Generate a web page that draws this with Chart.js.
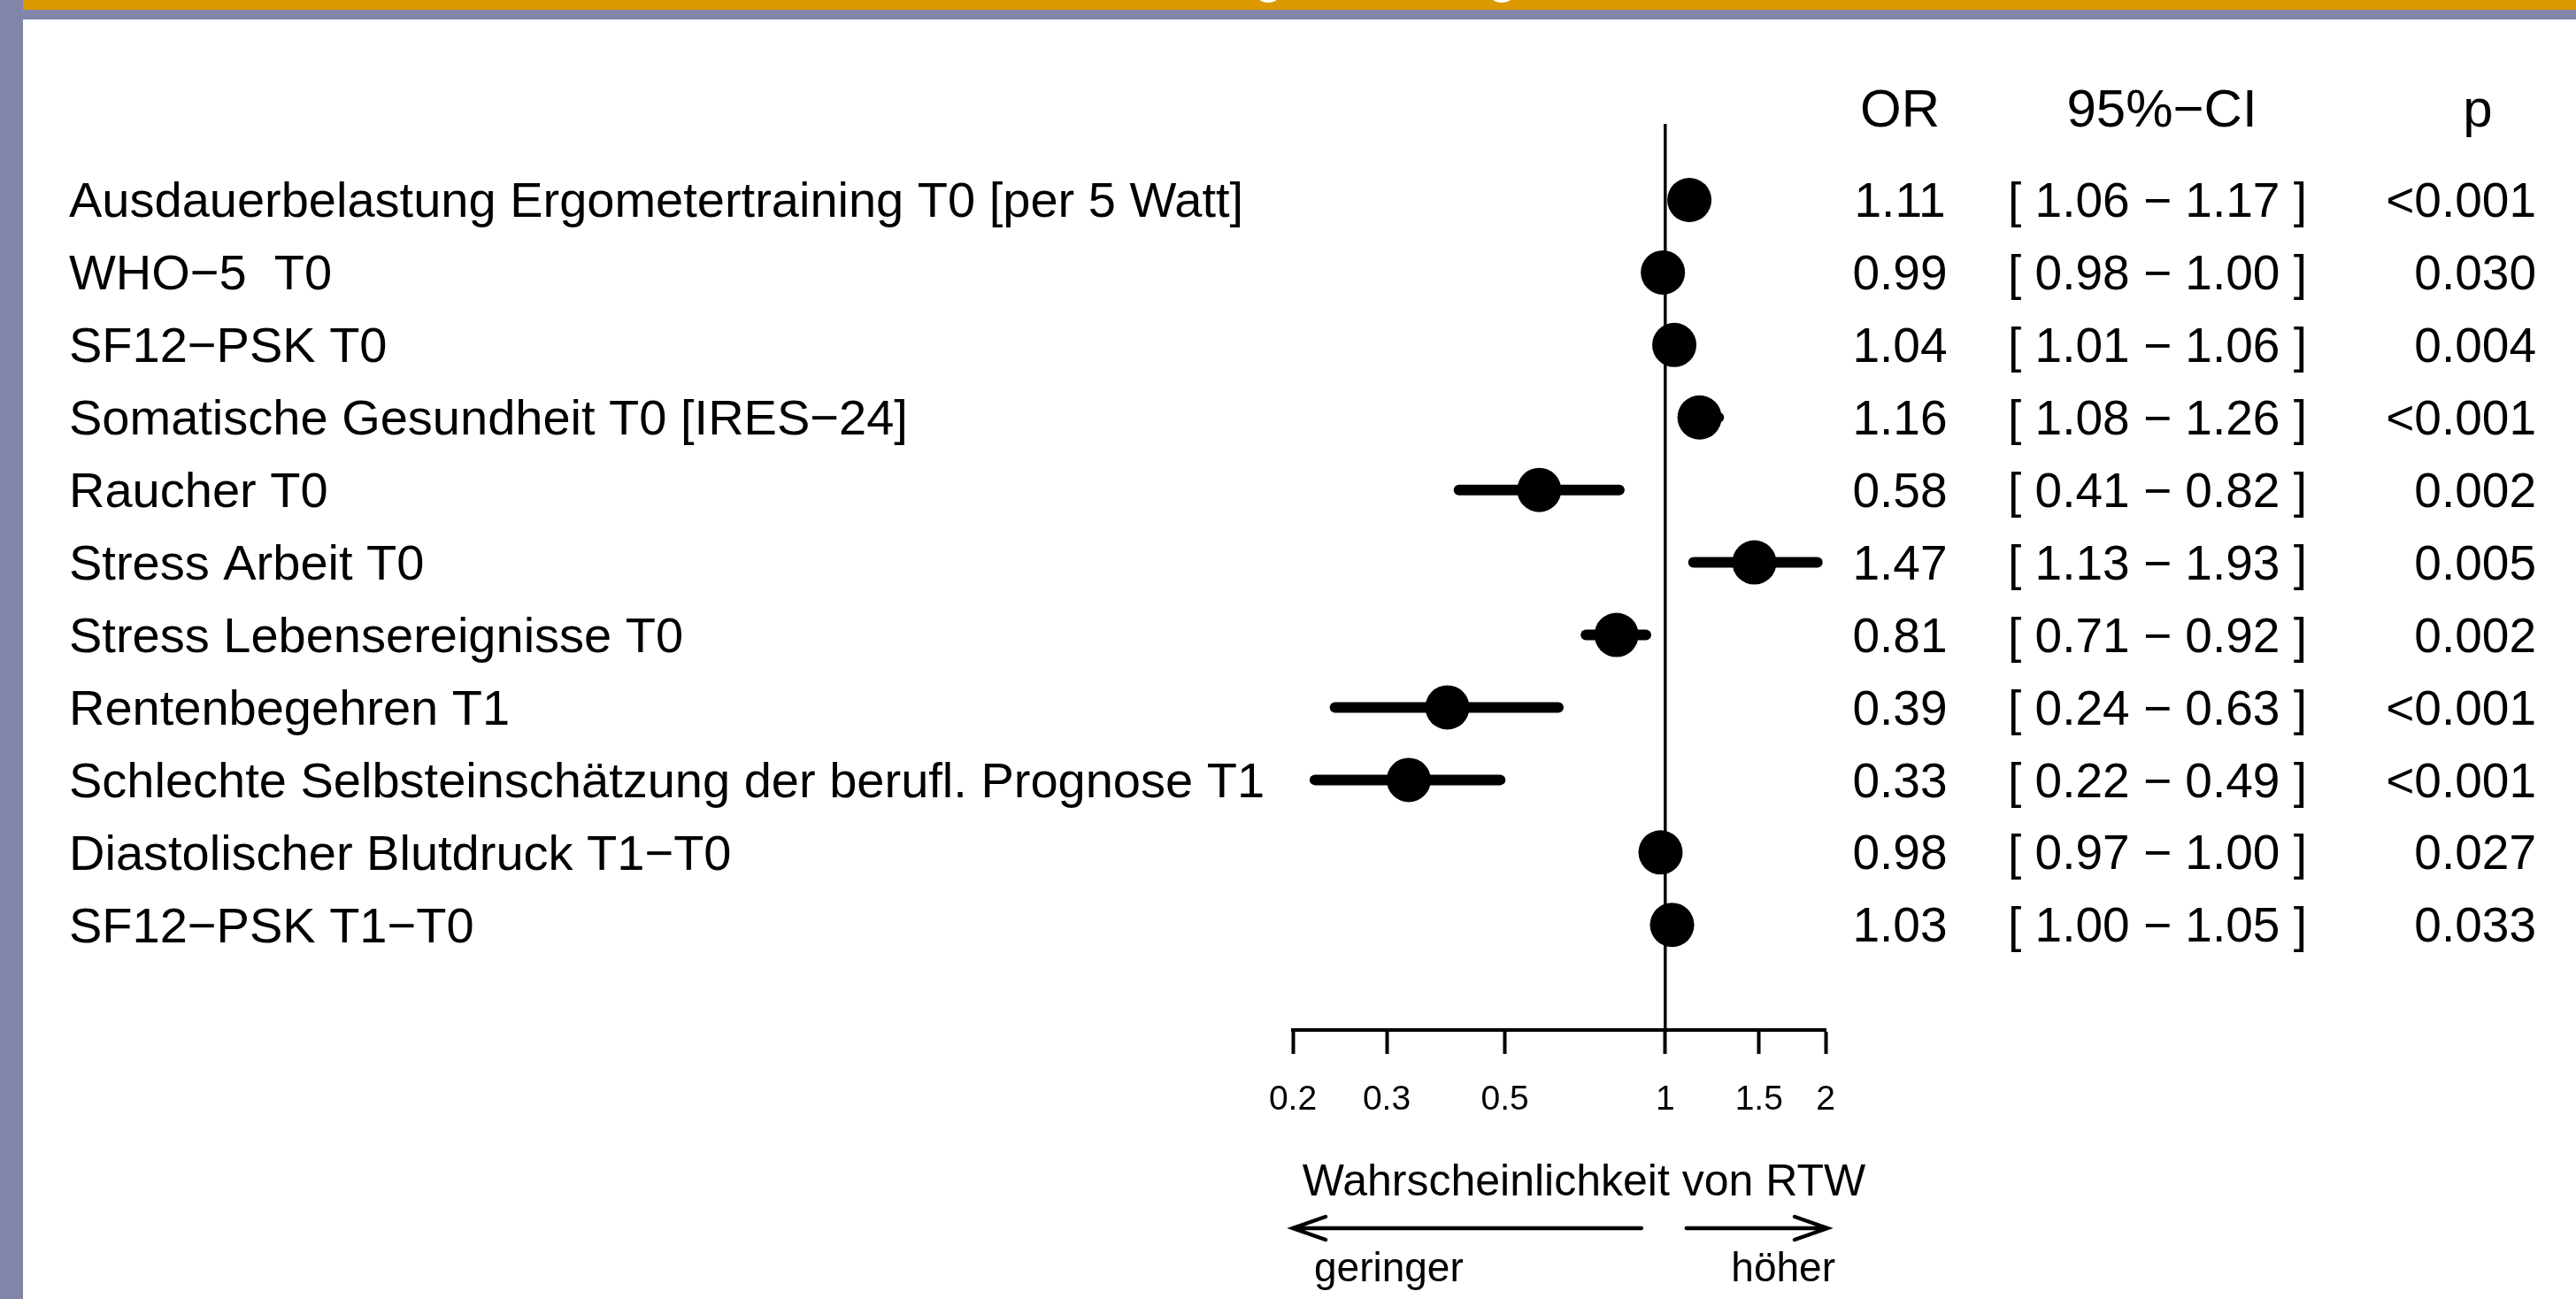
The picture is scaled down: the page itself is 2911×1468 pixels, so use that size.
<!DOCTYPE html>
<html>
<head>
<meta charset="utf-8">
<script src="https://cdn.jsdelivr.net/npm/chart.js@4.4.1/dist/chart.umd.min.js"></script>
<style>
  html, body { margin: 0; padding: 0; background: #ffffff; }
  canvas { display: block; }
</style>
</head>
<body>
<canvas id="forestChart" width="2911" height="1468"></canvas>
<script>
const predictors = [
  "Ausdauerbelastung Ergometertraining T0 [per 5 Watt]",
  "WHO\u22125  T0",
  "SF12\u2212PSK T0",
  "Somatische Gesundheit T0 [IRES\u221224]",
  "Raucher T0",
  "Stress Arbeit T0",
  "Stress Lebensereignisse T0",
  "Rentenbegehren T1",
  "Schlechte Selbsteinschätzung der berufl. Prognose T1",
  "Diastolischer Blutdruck T1\u2212T0",
  "SF12\u2212PSK T1\u2212T0"
];
const oddsRatios = [1.11, 0.99, 1.04, 1.16, 0.58, 1.47, 0.81, 0.39, 0.33, 0.98, 1.03];
const ciLower = [1.06, 0.98, 1.01, 1.08, 0.41, 1.13, 0.71, 0.24, 0.22, 0.97, 1.00];
const ciUpper = [1.17, 1.00, 1.06, 1.26, 0.82, 1.93, 0.92, 0.63, 0.49, 1.00, 1.05];
const pValues = ["<0.001", "0.030", "0.004", "<0.001", "0.002", "0.005", "0.002", "<0.001", "<0.001", "0.027", "0.033"];
const xTicks = [0.2, 0.3, 0.5, 1, 1.5, 2];
const columnHeaders = ["OR", "95%\u2212CI", "p"];

document.addEventListener("DOMContentLoaded", () => {
  const FONT = "'Liberation Sans', Arial, Helvetica, sans-serif";
  const fmt = (v) => v.toFixed(2);

  // slide frame: purple left band, orange + purple strip at the top
  const slideFrame = {
    id: "slideFrame",
    beforeDraw(chart) {
      const ctx = chart.ctx;
      ctx.save();
      ctx.fillStyle = "#ffffff";
      ctx.fillRect(0, 0, chart.width, chart.height);
      ctx.fillStyle = "#8085a9";
      ctx.fillRect(0, 0, 26, chart.height);
      ctx.fillRect(0, 11, chart.width, 11);
      ctx.fillStyle = "#dd9900";
      ctx.fillRect(26, 0, chart.width - 26, 11);
      // bits of the cut-off slide title
      ctx.fillStyle = "#ffffff";
      ctx.beginPath();
      ctx.ellipse(1433, -3, 11, 6, 0, 0, Math.PI * 2);
      ctx.ellipse(1697, -3, 11, 6, 0, 0, Math.PI * 2);
      ctx.fill();
      ctx.restore();
    },
  };

  // reference line at OR = 1 and the CI whiskers
  const whiskers = {
    id: "whiskers",
    beforeDatasetsDraw(chart) {
      const { ctx, chartArea } = chart;
      const xs = chart.scales.x;
      const ys = chart.scales.y;
      ctx.save();
      ctx.strokeStyle = "#000000";
      ctx.lineWidth = 3.5;
      const x1 = xs.getPixelForValue(1);
      ctx.beginPath();
      ctx.moveTo(x1, chartArea.top);
      ctx.lineTo(x1, chartArea.bottom);
      ctx.stroke();

      ctx.lineWidth = 12;
      ctx.lineCap = "round";
      predictors.forEach((_, i) => {
        const y = ys.getPixelForValue(i);
        ctx.beginPath();
        ctx.moveTo(xs.getPixelForValue(ciLower[i]), y);
        ctx.lineTo(xs.getPixelForValue(ciUpper[i]), y);
        ctx.stroke();
      });
      ctx.restore();
    },
  };

  // row labels, table columns, axis title and direction arrows
  const tableText = {
    id: "tableText",
    afterDraw(chart) {
      const { ctx, chartArea } = chart;
      const xs = chart.scales.x;
      const ys = chart.scales.y;
      ctx.save();
      ctx.fillStyle = "#000000";
      ctx.textBaseline = "middle";

      ctx.font = `60px ${FONT}`;
      const headY = ys.getPixelForValue(-1.3) + 7;
      ctx.textAlign = "center";
      ctx.fillText(columnHeaders[0], 2147, headY);
      ctx.fillText(columnHeaders[1], 2443, headY);
      ctx.fillText(columnHeaders[2], 2800, headY);

      predictors.forEach((label, i) => {
        const y = ys.getPixelForValue(i) + 4;
        ctx.font = `56px ${FONT}`;
        ctx.textAlign = "left";
        ctx.fillText(label, 78, y);
        ctx.font = `55px ${FONT}`;
        ctx.textAlign = "center";
        ctx.fillText(fmt(oddsRatios[i]), 2147, y);
        ctx.fillText(`[ ${fmt(ciLower[i])} \u2212 ${fmt(ciUpper[i])} ]`, 2438, y);
        ctx.textAlign = "right";
        ctx.fillText(pValues[i], 2866, y);
      });

      const base = chartArea.bottom;
      ctx.font = `50px ${FONT}`;
      ctx.textAlign = "center";
      ctx.fillText("Wahrscheinlichkeit von RTW", 1790, base + 173);

      const arrowY = base + 224;
      const left0 = xs.getPixelForValue(0.2);
      const right0 = xs.getPixelForValue(2);
      const mid = xs.getPixelForValue(1);
      ctx.strokeStyle = "#000000";
      ctx.lineWidth = 4.5;
      ctx.lineCap = "round";
      ctx.beginPath();
      ctx.moveTo(mid - 27, arrowY);
      ctx.lineTo(left0, arrowY);
      ctx.moveTo(left0 + 37, arrowY - 13);
      ctx.lineTo(left0, arrowY);
      ctx.lineTo(left0 + 37, arrowY + 13);
      ctx.moveTo(mid + 24, arrowY);
      ctx.lineTo(right0 + 2, arrowY);
      ctx.moveTo(right0 - 35, arrowY - 13);
      ctx.lineTo(right0 + 2, arrowY);
      ctx.lineTo(right0 - 35, arrowY + 13);
      ctx.stroke();

      ctx.font = `46px ${FONT}`;
      ctx.textBaseline = "alphabetic";
      ctx.textAlign = "left";
      ctx.fillText("geringer", 1485, base + 284);
      ctx.textAlign = "right";
      ctx.fillText("höher", 2074, base + 284);
      ctx.restore();
    },
  };

  new Chart(document.getElementById("forestChart"), {
    type: "scatter",
    data: {
      datasets: [
        {
          label: "OR",
          data: oddsRatios.map((v, i) => ({ x: v, y: i })),
          backgroundColor: "#000000",
          borderColor: "#000000",
          pointRadius: 25,
          pointHoverRadius: 25,
          borderWidth: 0,
        },
      ],
    },
    options: {
      responsive: false,
      animation: false,
      devicePixelRatio: 1,
      layout: { padding: { left: 1461, right: 848, top: 140, bottom: 184 } },
      plugins: {
        legend: { display: false },
        tooltip: { enabled: false },
      },
      scales: {
        x: {
          type: "logarithmic",
          position: "bottom",
          min: 0.2,
          max: 2,
          afterBuildTicks: (scale) => {
            scale.ticks = xTicks.map((v) => ({ value: v }));
          },
          afterFit: (scale) => {
            scale.height = 120;
          },
          border: { display: true, color: "#000000", width: 4 },
          grid: {
            drawOnChartArea: false,
            drawTicks: true,
            tickLength: 27,
            tickWidth: 4,
            tickColor: "#000000",
          },
          ticks: {
            color: "#000000",
            font: { family: FONT, size: 39 },
            padding: 29,
            maxRotation: 0,
            autoSkip: false,
            callback: (value) => String(value),
          },
        },
        y: {
          type: "linear",
          display: false,
          reverse: true,
          min: -1.05,
          max: 11.45,
        },
      },
    },
    plugins: [slideFrame, whiskers, tableText],
  });
});
</script>
</body>
</html>
